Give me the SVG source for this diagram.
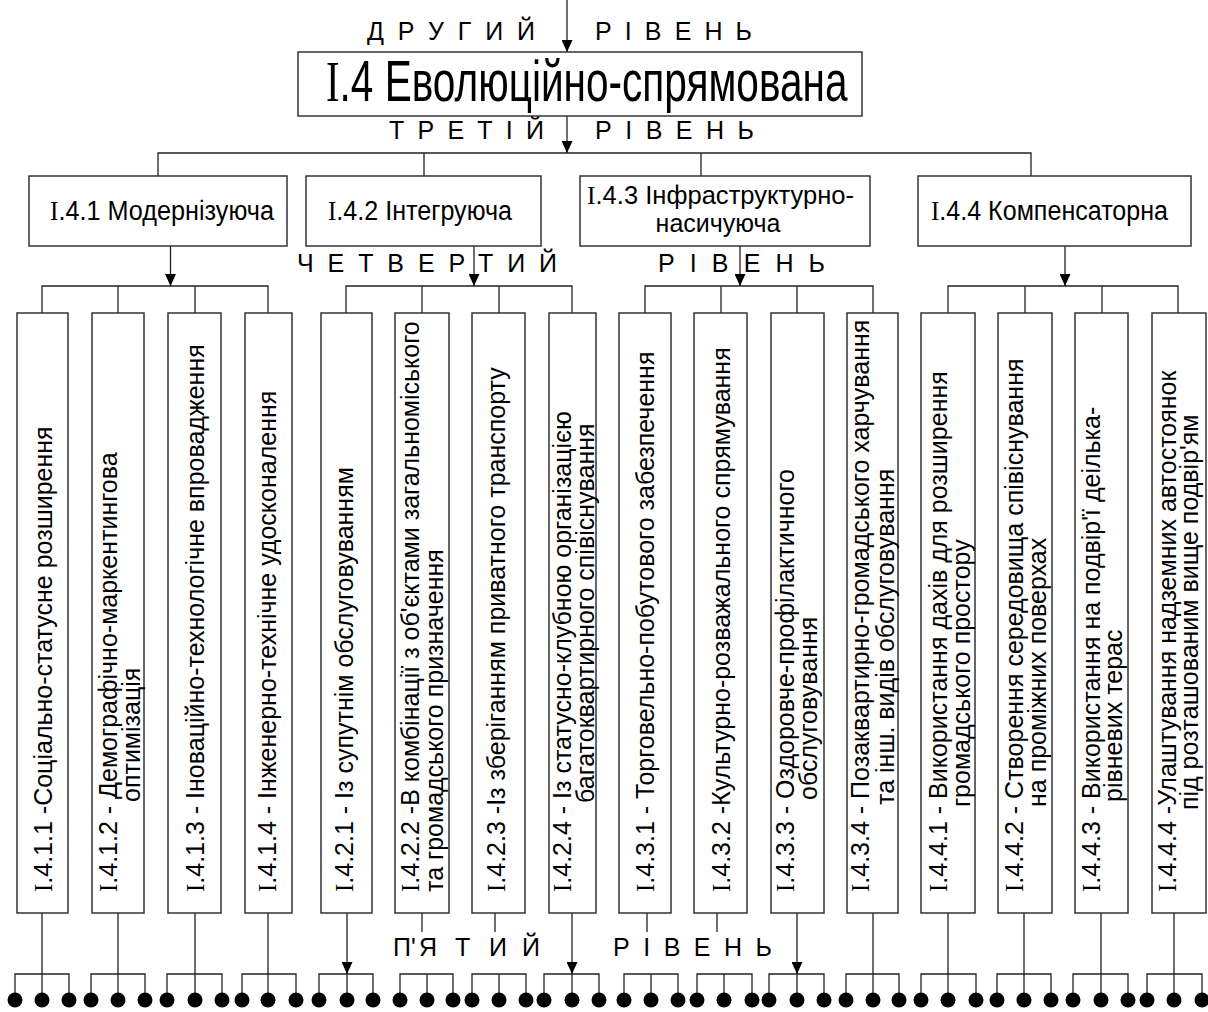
<svg xmlns="http://www.w3.org/2000/svg" width="1208" height="1012" viewBox="0 0 1208 1012">
<style>
.ln{stroke:#222;stroke-width:1.3;fill:none}
.bx{fill:#fff;stroke:#333;stroke-width:1.5}
.t{font-family:"Liberation Sans",Arial,sans-serif;fill:#000}
.s{font-family:"Liberation Serif","Times New Roman",serif}
.v{font-size:25px}
.lv{font-size:25px}
.h3{font-size:27px}
.dot{fill:#000}
</style>
<defs>
<marker id="ah" markerUnits="userSpaceOnUse" viewBox="0 0 12 11" markerWidth="12" markerHeight="11" refX="12" refY="5.5" orient="auto">
<path d="M0,0 L12,5.5 L0,11 z" fill="#000"/>
</marker>
</defs>
<rect width="1208" height="1012" fill="#fff"/>

<g id="level-labels" class="t lv">
<text x="367" y="40" textLength="168" lengthAdjust="spacing">ДРУГИЙ</text>
<text x="595" y="40" textLength="157" lengthAdjust="spacing">РІВЕНЬ</text>
<text x="389" y="139" textLength="155" lengthAdjust="spacing">ТРЕТІЙ</text>
<text x="595" y="139" textLength="159" lengthAdjust="spacing">РІВЕНЬ</text>
<text x="297" y="272" textLength="260" lengthAdjust="spacing">ЧЕТВЕРТИЙ</text>
<text x="658" y="272" textLength="167" lengthAdjust="spacing">РІВЕНЬ</text>
<text x="393 411 419 455 489 522" y="956">П'ЯТИЙ</text>
<text x="613" y="956" textLength="159" lengthAdjust="spacing">РІВЕНЬ</text>
</g>

<g id="connectors">
<line class="ln" x1="567" y1="0" x2="567" y2="52" marker-end="url(#ah)"/>
<line class="ln" x1="567" y1="116" x2="567" y2="153" marker-end="url(#ah)"/>
<path class="ln" d="M158,176V153H1031V176M424,153V176M701,153V176"/>
<line class="ln" x1="170.5" y1="246" x2="170.5" y2="286" marker-end="url(#ah)"/>
<line class="ln" x1="474" y1="246" x2="474" y2="286" marker-end="url(#ah)"/>
<line class="ln" x1="740" y1="246" x2="740" y2="286" marker-end="url(#ah)"/>
<line class="ln" x1="1065" y1="246" x2="1065" y2="286" marker-end="url(#ah)"/>
<path class="ln" d="M42,313V286H268V313M118,286V313M195,286V313"/>
<path class="ln" d="M346,313V286H572V313M422,286V313M499,286V313"/>
<path class="ln" d="M645,313V286H873V313M721,286V313M797,286V313"/>
<path class="ln" d="M948,313V286H1178V313M1025,286V313M1102,286V313"/>
<path class="ln" d="M42,913V974M118,913V974M195,913V974M268,913V974M873,913V974M948,913V974M1024,913V974M1101,913V974M1174,913V974"/>
<path class="ln" d="M422,913V932M495,913V932M647,913V932M717,913V932"/>
<line class="ln" x1="347" y1="913" x2="347" y2="974" marker-end="url(#ah)"/>
<line class="ln" x1="572" y1="913" x2="572" y2="974" marker-end="url(#ah)"/>
<line class="ln" x1="797" y1="913" x2="797" y2="974" marker-end="url(#ah)"/>
<path class="ln" d="M15,1000V974H69V1000M42,974V1000 M91,1000V974H145V1000M118,974V1000 M167,1000V974H222V1000M195,974V1000 M242,1000V974H296V1000M268,974V1000 M319,1000V974H373V1000M347,974V1000 M400,1000V974H453V1000M427,974V1000 M472,1000V974H526V1000M499,974V1000 M544,1000V974H599V1000M572,974V1000 M624,1000V974H678V1000M651,974V1000 M697,1000V974H752V1000M724,974V1000 M769,1000V974H824V1000M797,974V1000 M846,1000V974H899V1000M873,974V1000 M921,1000V974H976V1000M948,974V1000 M997,1000V974H1051V1000M1024,974V1000 M1073,1000V974H1128V1000M1101,974V1000 M1147,1000V974H1202V1000M1174,974V1000"/>
</g>

<g id="dots" class="dot">
<circle cx="15" cy="1000" r="7.5"/><circle cx="42" cy="1000" r="7.5"/><circle cx="69" cy="1000" r="7.5"/>
<circle cx="91" cy="1000" r="7.5"/><circle cx="118" cy="1000" r="7.5"/><circle cx="145" cy="1000" r="7.5"/>
<circle cx="167" cy="1000" r="7.5"/><circle cx="195" cy="1000" r="7.5"/><circle cx="222" cy="1000" r="7.5"/>
<circle cx="242" cy="1000" r="7.5"/><circle cx="268" cy="1000" r="7.5"/><circle cx="296" cy="1000" r="7.5"/>
<circle cx="319" cy="1000" r="7.5"/><circle cx="347" cy="1000" r="7.5"/><circle cx="373" cy="1000" r="7.5"/>
<circle cx="400" cy="1000" r="7.5"/><circle cx="427" cy="1000" r="7.5"/><circle cx="453" cy="1000" r="7.5"/>
<circle cx="472" cy="1000" r="7.5"/><circle cx="499" cy="1000" r="7.5"/><circle cx="526" cy="1000" r="7.5"/>
<circle cx="544" cy="1000" r="7.5"/><circle cx="572" cy="1000" r="7.5"/><circle cx="599" cy="1000" r="7.5"/>
<circle cx="624" cy="1000" r="7.5"/><circle cx="651" cy="1000" r="7.5"/><circle cx="678" cy="1000" r="7.5"/>
<circle cx="697" cy="1000" r="7.5"/><circle cx="724" cy="1000" r="7.5"/><circle cx="752" cy="1000" r="7.5"/>
<circle cx="769" cy="1000" r="7.5"/><circle cx="797" cy="1000" r="7.5"/><circle cx="824" cy="1000" r="7.5"/>
<circle cx="846" cy="1000" r="7.5"/><circle cx="873" cy="1000" r="7.5"/><circle cx="899" cy="1000" r="7.5"/>
<circle cx="921" cy="1000" r="7.5"/><circle cx="948" cy="1000" r="7.5"/><circle cx="976" cy="1000" r="7.5"/>
<circle cx="997" cy="1000" r="7.5"/><circle cx="1024" cy="1000" r="7.5"/><circle cx="1051" cy="1000" r="7.5"/>
<circle cx="1073" cy="1000" r="7.5"/><circle cx="1101" cy="1000" r="7.5"/><circle cx="1128" cy="1000" r="7.5"/>
<circle cx="1147" cy="1000" r="7.5"/><circle cx="1174" cy="1000" r="7.5"/><circle cx="1202" cy="1000" r="7.5"/>
</g>

<g id="n-I4">
<rect class="bx" x="298" y="52" width="564" height="64"/>
<text class="t" transform="translate(326,101) scale(0.7,1)" font-size="58"><tspan class="s">I</tspan>.4 Еволюційно-спрямована</text>
</g>

<g id="n-I41">
<rect class="bx" x="29" y="176" width="258" height="70"/>
<text class="t h3" x="50" y="220" textLength="224" lengthAdjust="spacingAndGlyphs"><tspan class="s">I</tspan>.4.1 Модернізуюча</text>
</g>
<g id="n-I42">
<rect class="bx" x="306" y="176" width="235" height="70"/>
<text class="t h3" x="328" y="220" textLength="184" lengthAdjust="spacingAndGlyphs"><tspan class="s">I</tspan>.4.2 Інтегруюча</text>
</g>
<g id="n-I43">
<rect class="bx" x="580" y="176" width="290" height="70"/>
<text class="t" x="587" y="204" font-size="26" textLength="267" lengthAdjust="spacingAndGlyphs"><tspan class="s">I</tspan>.4.3 Інфраструктурно-</text>
<text class="t" x="718" y="232" font-size="25" text-anchor="middle">насичуюча</text>
</g>
<g id="n-I44">
<rect class="bx" x="918" y="176" width="273" height="70"/>
<text class="t h3" x="931" y="220" textLength="237" lengthAdjust="spacingAndGlyphs"><tspan class="s">I</tspan>.4.4 Компенсаторна</text>
</g>

<g id="n-I411"><rect class="bx" x="17" y="313" width="51" height="600"/>
<text class="t v" transform="translate(52,892) rotate(-90)"><tspan class="s">I</tspan>.4.1.1 -Соціально-статусне розширення</text></g>
<g id="n-I412"><rect class="bx" x="92" y="313" width="52" height="600"/>
<text class="t v" transform="translate(117,892) rotate(-90)"><tspan class="s">I</tspan>.4.1.2 - Демографічно-маркентингова</text>
<text class="t v" transform="translate(140,802) rotate(-90)">оптимізація</text></g>
<g id="n-I413"><rect class="bx" x="168" y="313" width="53" height="600"/>
<text class="t v" transform="translate(204,892) rotate(-90)"><tspan class="s">I</tspan>.4.1.3 - Іноваційно-технологічне впровадження</text></g>
<g id="n-I414"><rect class="bx" x="245" y="313" width="47" height="600"/>
<text class="t v" transform="translate(276,892) rotate(-90)"><tspan class="s">I</tspan>.4.1.4 - Інженерно-технічне удосконалення</text></g>

<g id="n-I421"><rect class="bx" x="321" y="313" width="51" height="600"/>
<text class="t v" transform="translate(353,892) rotate(-90)"><tspan class="s">I</tspan>.4.2.1 - Із супутнім обслуговуванням</text></g>
<g id="n-I422"><rect class="bx" x="395" y="313" width="54" height="600"/>
<text class="t v" transform="translate(419,892) rotate(-90)"><tspan class="s">I</tspan>.4.2.2 -В комбінації з об'єктами загальноміського</text>
<text class="t v" transform="translate(443,892) rotate(-90)">та громадського призначення</text></g>
<g id="n-I423"><rect class="bx" x="472" y="313" width="53" height="600"/>
<text class="t v" transform="translate(505,892) rotate(-90)"><tspan class="s">I</tspan>.4.2.3 -Із зберіганням приватного транспорту</text></g>
<g id="n-I424"><rect class="bx" x="549" y="313" width="47" height="600"/>
<text class="t v" transform="translate(571,892) rotate(-90)"><tspan class="s">I</tspan>.4.2.4 - Із статусно-клубною організацією</text>
<text class="t v" transform="translate(594,803) rotate(-90)">багатоквартирного співіснування</text></g>

<g id="n-I431"><rect class="bx" x="619" y="313" width="52" height="600"/>
<text class="t v" transform="translate(654,892) rotate(-90)"><tspan class="s">I</tspan>.4.3.1 - Торговельно-побутового забезпечення</text></g>
<g id="n-I432"><rect class="bx" x="694" y="313" width="53" height="600"/>
<text class="t v" transform="translate(730,892) rotate(-90)"><tspan class="s">I</tspan>.4.3.2 -Культурно-розважального спрямування</text></g>
<g id="n-I433"><rect class="bx" x="771" y="313" width="53" height="600"/>
<text class="t v" transform="translate(794,892) rotate(-90)"><tspan class="s">I</tspan>.4.3.3 - Оздоровче-профілактичного</text>
<text class="t v" transform="translate(817,800) rotate(-90)">обслуговування</text></g>
<g id="n-I434"><rect class="bx" x="847" y="313" width="51" height="600"/>
<text class="t v" transform="translate(869,892) rotate(-90)"><tspan class="s">I</tspan>.4.3.4 - Позаквартирно-громадського харчування</text>
<text class="t v" transform="translate(894,805) rotate(-90)">та інш. видів обслуговування</text></g>

<g id="n-I441"><rect class="bx" x="921" y="313" width="54" height="600"/>
<text class="t v" transform="translate(947,892) rotate(-90)"><tspan class="s">I</tspan>.4.4.1 - Використання дахів для розширення</text>
<text class="t v" transform="translate(970,807) rotate(-90)">громадського простору</text></g>
<g id="n-I442"><rect class="bx" x="998" y="313" width="54" height="600"/>
<text class="t v" transform="translate(1023,892) rotate(-90)"><tspan class="s">I</tspan>.4.4.2 - Створення середовища співіснування</text>
<text class="t v" transform="translate(1046,807) rotate(-90)">на проміжних поверхах</text></g>
<g id="n-I443"><rect class="bx" x="1075" y="313" width="53" height="600"/>
<text class="t v" transform="translate(1100,892) rotate(-90)"><tspan class="s">I</tspan>.4.4.3 - Використання на подвір'ї деілька-</text>
<text class="t v" transform="translate(1122,802) rotate(-90)">рівневих терас</text></g>
<g id="n-I444"><rect class="bx" x="1152" y="313" width="54" height="600"/>
<text class="t v" transform="translate(1176,892) rotate(-90)"><tspan class="s">I</tspan>.4.4.4 -Улаштування надземних автостоянок</text>
<text class="t v" transform="translate(1198,810) rotate(-90)">під розташованим вище подвір'ям</text></g>
</svg>
